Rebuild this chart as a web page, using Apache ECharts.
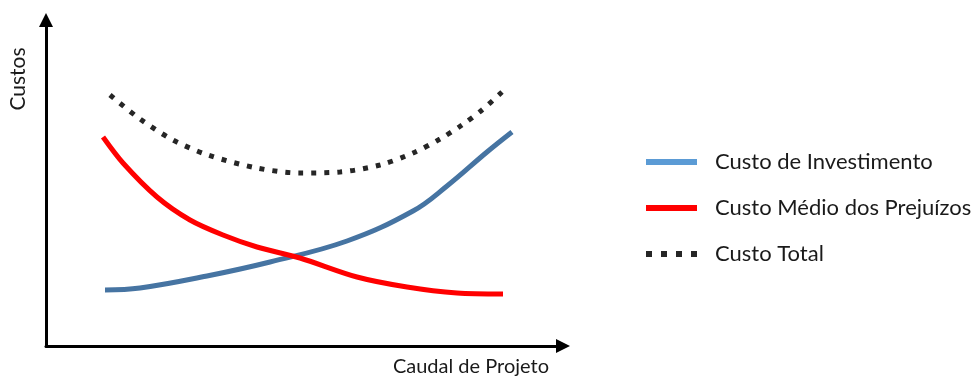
<!DOCTYPE html>
<html>
<head>
<meta charset="utf-8">
<script src="https://cdn.jsdelivr.net/npm/echarts@6/dist/echarts.min.js"></script>
<style>
  html, body { margin: 0; padding: 0; background: #fff; }
  #chart { width: 973px; height: 376px; }
</style>
</head>
<body>
<div id="chart"></div>
<script>
// Conceptual cost curves against design flow (arbitrary units, no tick scale)
const seriesNames = ['Custo de Investimento', 'Custo Médio dos Prejuízos', 'Custo Total'];

const investimento = [
  [59, 56], [94, 58], [161, 70], [224, 84], [301, 105],
  [367, 135], [401, 160], [441, 194], [466, 214]
];
const prejuizos = [
  [57, 209], [77, 183], [111, 149], [144, 126], [177, 111], [211, 99],
  [254, 88], [311, 69], [361, 59], [411, 53], [457, 52]
];
const total = [
  [64, 251], [94, 227], [127, 206], [162, 191], [211, 178], [254, 173], [294, 174],
  [334, 181], [367, 193], [394, 207], [416, 221], [436, 236], [456, 254]
];

const xName = 'Caudal de Projeto';
const yName = 'Custos';

const font = 'Lato, "Open Sans", sans-serif';
const chart = echarts.init(document.getElementById('chart'), null, { renderer: 'canvas' });

const axisLine = {
  show: true,
  symbol: ['none', 'triangle'],
  symbolSize: [14, 14],
  lineStyle: { color: '#000', width: 3 }
};

chart.setOption({
  animation: false,
  backgroundColor: '#fff',
  grid: { left: 46, right: 410, top: 20, bottom: 30 },
  xAxis: {
    type: 'value', min: 0, max: 517,
    axisLine: axisLine,
    axisTick: { show: false }, axisLabel: { show: false }, splitLine: { show: false }
  },
  yAxis: {
    type: 'value', min: 0, max: 326,
    axisLine: axisLine,
    axisTick: { show: false }, axisLabel: { show: false }, splitLine: { show: false }
  },
  legend: {
    orient: 'vertical',
    left: 638, top: 146,
    itemWidth: 51, itemHeight: 14, itemGap: 24,
    itemStyle: { opacity: 0 },
    textStyle: { fontFamily: font, fontSize: 22, color: '#1a1a1a', padding: [0, 0, 0, 13] },
    data: [
      { name: seriesNames[0], lineStyle: { color: '#5b9bd5', width: 6 } },
      { name: seriesNames[1], lineStyle: { width: 6 } },
      { name: seriesNames[2], lineStyle: { width: 6, type: [6, 9] } }
    ]
  },
  graphic: [
    {
      type: 'text', x: 18, y: 79, rotation: Math.PI / 2,
      style: { text: yName, fontFamily: font, fontSize: 21, fill: '#1a1a1a', align: 'center', verticalAlign: 'middle' }
    },
    {
      type: 'text', x: 549, y: 367,
      style: { text: xName, fontFamily: font, fontSize: 20, fill: '#1a1a1a', align: 'right', verticalAlign: 'middle' }
    }
  ],
  series: [
    {
      name: seriesNames[0], type: 'line', data: investimento, smooth: 0.4,
      symbol: 'none', lineStyle: { color: '#4674a2', width: 5 }, itemStyle: { color: '#4674a2' }
    },
    {
      name: seriesNames[1], type: 'line', data: prejuizos, smooth: 0.3,
      symbol: 'none', lineStyle: { color: '#ff0000', width: 5 }, itemStyle: { color: '#ff0000' }
    },
    {
      name: seriesNames[2], type: 'line', data: total, smooth: 0.3,
      symbol: 'none', lineStyle: { color: '#262626', width: 5, type: [5, 8] }, itemStyle: { color: '#262626' }
    }
  ]
});
</script>
</body>
</html>
